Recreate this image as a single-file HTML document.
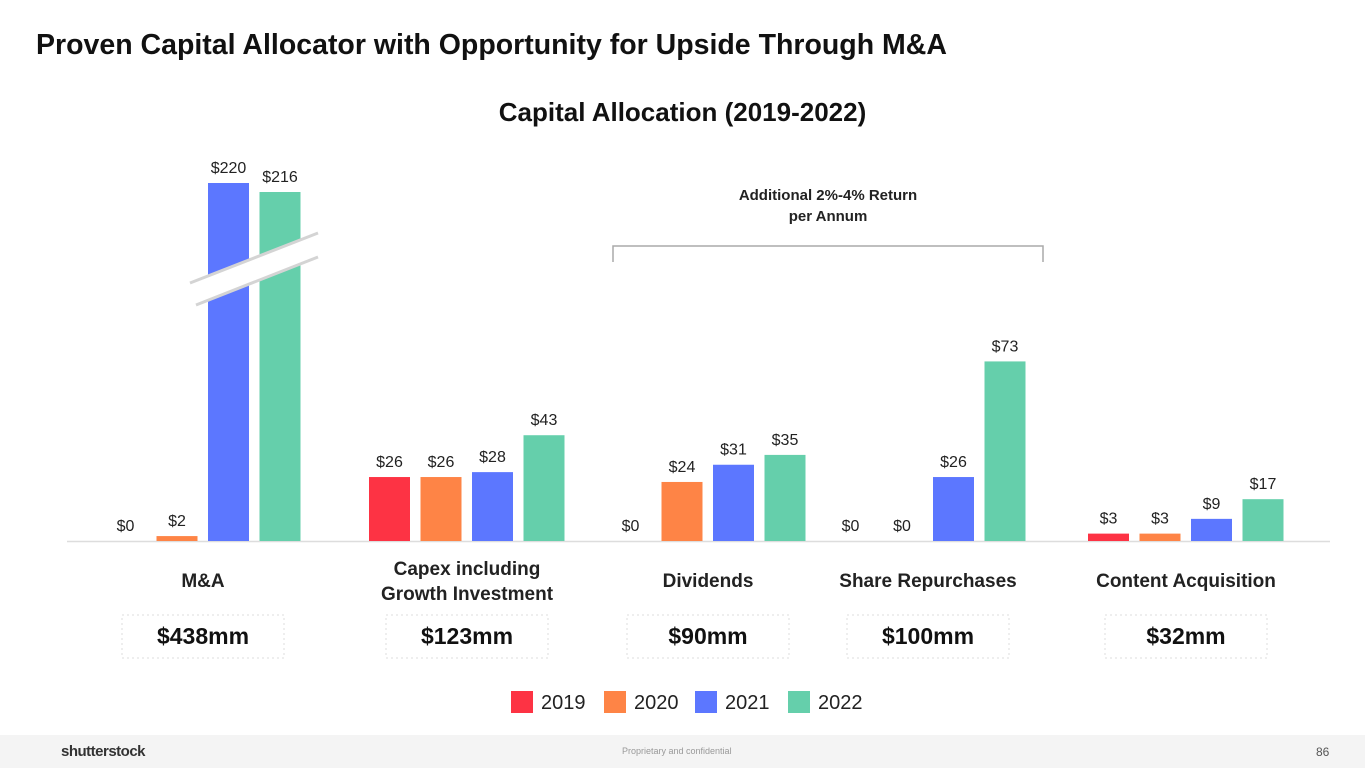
<!DOCTYPE html>
<html><head><meta charset="utf-8"><style>
body{margin:0;width:1365px;height:768px;overflow:hidden;background:#fff;font-family:"Liberation Sans",sans-serif;position:relative}
.t{position:absolute;white-space:nowrap}
</style></head><body>
<div class="t" style="left:36px;top:29px;font-size:28.5px;font-weight:bold;color:#111">Proven Capital Allocator with Opportunity for Upside Through M&amp;A</div>
<div class="t" style="width:1365px;text-align:center;top:97px;font-size:26px;font-weight:bold;color:#111;left:0">Capital Allocation (2019-2022)</div>
<svg id="chart" width="1365" height="768" style="position:absolute;left:0;top:0"></svg>
<div style="position:absolute;left:0;top:735px;width:1365px;height:33px;background:#f4f4f4">
<div class="t" style="left:61px;top:8px;font-size:15px;font-weight:bold;color:#333;letter-spacing:-0.5px">shutterstock</div>
<div class="t" style="left:622px;top:11px;font-size:9px;color:#999">Proprietary and confidential</div>
<div class="t" style="left:1316px;top:10px;font-size:12px;color:#555">86</div>
</div>
<script>
const categories=["M&A","Capex including|Growth Investment","Dividends","Share Repurchases","Content Acquisition"];
const years=["2019","2020","2021","2022"];
const v2019=[0,26,0,0,3];
const v2020=[2,26,24,0,3];
const v2021=[220,28,31,26,9];
const v2022=[216,43,35,73,17];
const totals=["$438mm","$123mm","$90mm","$100mm","$32mm"];
const colors=["#fd3344","#fe8446","#5c77ff","#65cfab"];
const series=[v2019,v2020,v2021,v2022];
const groupLeft=[105,369,610,830,1088];
const base=541, ppu=2.46, bw=41, step=51.5;
function y(v){return v>100? 183+(220-v)*2.25 : base-v*ppu;}
const svg=document.getElementById('chart');
const NS='http://www.w3.org/2000/svg';
function mk(t,a){const e=document.createElementNS(NS,t);for(const k in a)e.setAttribute(k,a[k]);svg.appendChild(e);return e;}
let ax=mk('line',{x1:67,x2:1330,y1:base+0.5,y2:base+0.5,stroke:'#ddd','stroke-width':1.5});


categories.forEach((c,g)=>{
  series.forEach((s,i)=>{
    const v=s[g];const x=groupLeft[g]+i*step;const yt=y(v);
    const r=mk('rect',{x:x,y:yt,width:bw,height:Math.max(0,base-yt),fill:colors[i]});
    
    
    const t=mk('text',{x:x+bw/2,y:yt-10,'text-anchor':'middle','font-size':16,fill:'#222','font-family':'Liberation Sans'});
    t.textContent='$'+v;
    
    
  });
  const cx=groupLeft[g]+2*step-5;
  const lines=c.split('|');
  lines.forEach((l,k)=>{
    const t=mk('text',{x:cx,y:(lines.length>1?575:587)+k*25,'text-anchor':'middle','font-size':19,'font-weight':'bold',fill:'#222','font-family':'Liberation Sans'});
    t.textContent=l;
    
    
  });
  const bx=mk('rect',{x:cx-81,y:615,width:162,height:43,fill:'none',stroke:'#ddd','stroke-dasharray':'2,3'});
  
  
  const tt=mk('text',{x:cx,y:644,'text-anchor':'middle','font-size':23,'font-weight':'bold',fill:'#111','font-family':'Liberation Sans'});
  tt.textContent=totals[g];
  
  
});
let br=mk('polygon',{points:'190,283 318,233 318,257 196,305',fill:'#fff'});


mk('line',{x1:190,y1:283,x2:318,y2:233,stroke:'#d4d4d4','stroke-width':3});
mk('line',{x1:196,y1:305,x2:318,y2:257,stroke:'#d4d4d4','stroke-width':3});
let bk=mk('path',{d:'M613,262 V246 H1043 V262',fill:'none',stroke:'#aaa','stroke-width':1.5});


[['Additional 2%-4% Return',200],['per Annum',221]].forEach(([s,yy])=>{
  const t=mk('text',{x:828,y:yy,'text-anchor':'middle','font-size':15,'font-weight':'bold',fill:'#222','font-family':'Liberation Sans'});
  t.textContent=s;
  
  
});
const lx=[511,604,695,788];
years.forEach((yr,i)=>{
  const r=mk('rect',{x:lx[i],y:691,width:22,height:22,fill:colors[i]});
  
  
  const t=mk('text',{x:lx[i]+30,y:709,'font-size':20,fill:'#222','font-family':'Liberation Sans'});
  t.textContent=yr;
  
  
});
</script>
</body></html>
